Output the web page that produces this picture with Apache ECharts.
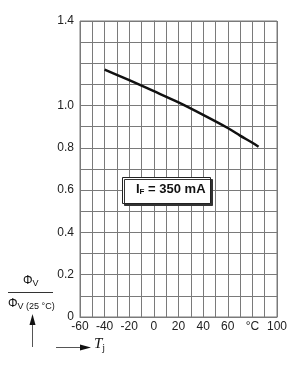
<!DOCTYPE html>
<html>
<head>
<meta charset="utf-8">
<script src="https://cdn.jsdelivr.net/npm/echarts@6/dist/echarts.min.js"></script>
<style>
  html, body { margin: 0; padding: 0; background: #fff; }
  #chart { width: 300px; height: 367px; }
</style>
</head>
<body>
<div id="chart"></div>
<script>
// 结温 Tj (°C) 与相对光通量
const tempC = [-40, -20, 0, 20, 40, 60, 70, 80, 85]
const relFlux = [1.17, 1.12, 1.068, 1.015, 0.956, 0.894, 0.858, 0.824, 0.805]

// 刻度标签
const xLabelValues = [-60, -40, -20, 0, 20, 40, 60, 80, 100]
const xLabelTexts = ['-60', '-40', '-20', '0', '20', '40', '60', '°C', '100']
const yLabelValues = [0, 2, 4, 6, 8, 10, 14]
const yLabelTexts = ['0', '0.2', '0.4', '0.6', '0.8', '1.0', '1.4']

const fontFamily = '"Liberation Sans", Arial, sans-serif'
const gridColor = '#7a7a7a'

let chart = echarts.init(document.getElementById('chart'))

/**
 * 箭头（三角形）
 */
const arrowHead = function (points) {
  return {
    type: 'polygon',
    shape: { points: points },
    style: { fill: '#111' }
  }
}

let option = {
  backgroundColor: '#fff',
  animation: false,
  grid: {
    left: 80,
    right: 23,
    top: 21,
    bottom: 50,
    show: true,
    borderColor: gridColor,
    borderWidth: 1
  },
  xAxis: {
    type: 'value',
    min: -60,
    max: 100,
    interval: 10,
    axisLine: { lineStyle: { color: gridColor } },
    axisTick: { show: false },
    splitLine: { show: true, lineStyle: { color: gridColor, width: 1 } },
    axisLabel: {
      color: '#222',
      fontFamily: fontFamily,
      fontSize: 12,
      margin: 4,
      formatter: function (v) {
        let i = xLabelValues.indexOf(Math.round(v))
        return i < 0 ? '' : xLabelTexts[i]
      }
    }
  },
  yAxis: {
    type: 'value',
    min: 0,
    max: 1.4,
    interval: 0.1,
    axisLine: { show: true, lineStyle: { color: gridColor } },
    axisTick: { show: false },
    splitLine: { show: true, lineStyle: { color: gridColor, width: 1 } },
    axisLabel: {
      color: '#222',
      fontFamily: fontFamily,
      fontSize: 12,
      margin: 6,
      formatter: function (v) {
        let i = yLabelValues.indexOf(Math.round(v * 10))
        return i < 0 ? '' : yLabelTexts[i]
      }
    }
  },
  series: [{
    type: 'line',
    data: tempC.map(function (t, i) { return [t, relFlux[i]] }),
    smooth: 0.3,
    symbol: 'none',
    lineStyle: { color: '#111', width: 2.5 }
  }],
  graphic: [
    // I_F 标注框
    {
      type: 'rect',
      left: 122,
      top: 177,
      shape: { width: 88, height: 26 },
      style: {
        fill: '#fff',
        stroke: '#222',
        lineWidth: 1,
        shadowColor: '#333',
        shadowOffsetX: 2,
        shadowOffsetY: 2,
        shadowBlur: 0
      },
      z: 10
    },
    {
      type: 'text',
      left: 136,
      top: 183,
      z: 11,
      style: {
        text: '{b|I}{s|F}{b| = 350 mA}',
        rich: {
          b: { fontFamily: fontFamily, fontWeight: 'bold', fontSize: 13, fill: '#111' },
          s: { fontFamily: fontFamily, fontWeight: 'bold', fontSize: 8, fill: '#111', verticalAlign: 'bottom', padding: [4, 0, 0, 0] }
        }
      }
    },
    // 纵轴名称 Φv / Φv(25 °C)
    {
      type: 'text',
      left: 23,
      top: 275,
      style: {
        text: '{p|Φ}{s|V}',
        rich: {
          p: { fontFamily: fontFamily, fontSize: 12, fill: '#111' },
          s: { fontFamily: fontFamily, fontSize: 9, fill: '#111', padding: [5, 0, 0, 0] }
        }
      }
    },
    {
      type: 'line',
      shape: { x1: 8, y1: 292.5, x2: 53, y2: 292.5 },
      style: { stroke: '#333', lineWidth: 1 }
    },
    {
      type: 'text',
      left: 8,
      top: 298,
      style: {
        text: '{p|Φ}{s|V (25 °C)}',
        rich: {
          p: { fontFamily: fontFamily, fontSize: 12, fill: '#111' },
          s: { fontFamily: fontFamily, fontSize: 9, fill: '#111', padding: [5, 0, 0, 0] }
        }
      }
    },
    // 向上箭头
    {
      type: 'line',
      shape: { x1: 32.5, y1: 324, x2: 32.5, y2: 347 },
      style: { stroke: '#555', lineWidth: 1 }
    },
    arrowHead([[32.5, 314], [29.5, 325], [35.5, 325]]),
    // 向右箭头与 Tj
    {
      type: 'line',
      shape: { x1: 56, y1: 347.5, x2: 82, y2: 347.5 },
      style: { stroke: '#555', lineWidth: 1 }
    },
    arrowHead([[91, 347.5], [80, 344.5], [80, 350.5]]),
    {
      type: 'text',
      left: 94,
      top: 337,
      style: {
        text: '{t|T}{j|j}',
        rich: {
          t: { fontFamily: '"Liberation Serif", serif', fontStyle: 'italic', fontSize: 15, fill: '#111' },
          j: { fontFamily: '"Liberation Serif", serif', fontSize: 10, fill: '#111', padding: [7, 0, 0, 0] }
        }
      }
    }
  ]
}

chart.setOption(option)
</script>
</body>
</html>
